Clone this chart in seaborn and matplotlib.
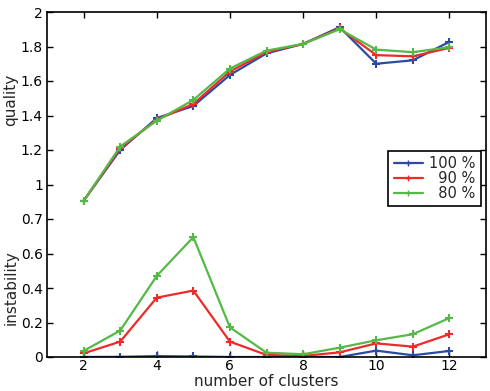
import numpy as np
import pandas as pd
import matplotlib
matplotlib.use("Agg")
import matplotlib.pyplot as plt
import seaborn as sns
from matplotlib.lines import Line2D

clusters = [2, 3, 4, 5, 6, 7, 8, 9, 10, 11, 12]
series = ["100 %", "90 %", "80 %"]
legend_labels = ["100 %", "  90 %", "  80 %"]

quality_100 = [0.905, 1.20, 1.385, 1.455, 1.635, 1.760, 1.815, 1.912, 1.700, 1.720, 1.827]
quality_90 = [0.905, 1.21, 1.375, 1.467, 1.655, 1.768, 1.815, 1.905, 1.750, 1.743, 1.792]
quality_80 = [0.905, 1.22, 1.370, 1.490, 1.672, 1.776, 1.815, 1.900, 1.782, 1.767, 1.796]

instab_100 = [0.000, 0.001, 0.005, 0.003, 0.000, 0.000, 0.000, 0.000, 0.037, 0.010, 0.035]
instab_90 = [0.021, 0.089, 0.344, 0.385, 0.089, 0.012, 0.006, 0.027, 0.079, 0.060, 0.132]
instab_80 = [0.035, 0.153, 0.470, 0.695, 0.172, 0.025, 0.016, 0.054, 0.097, 0.132, 0.226]

ytick_vals = [0, 0.2, 0.4, 0.6, 0.8, 1.0, 1.2, 1.4, 1.6, 1.8, 2.0]
ytick_labels = ["0", "0.2", "0.4", "0.6", "0.7", "1", "1.2", "1.4", "1.6", "1.8", "2"]
xtick_vals = [2, 4, 6, 8, 10, 12]

colors = {"100 %": "#2b4aa5", "90 %": "#ee2a2a", "80 %": "#55b947"}

rows = []
for s, q, ins in zip(series, [quality_100, quality_90, quality_80],
                     [instab_100, instab_90, instab_80]):
    for c, qv, iv in zip(clusters, q, ins):
        rows.append({"clusters": c, "series": s, "quality": qv, "instability": iv})
df = pd.DataFrame(rows)

sns.set_theme(style="white")
plt.rcParams["font.family"] = ["DejaVu Sans"]

fig = plt.figure(figsize=(4.9, 3.91), dpi=100)
ax = fig.add_axes([47 / 490, 1 - 357 / 391, (486 - 47) / 490, (357 - 12) / 391])

for metric in ["quality", "instability"]:
    sns.lineplot(data=df, x="clusters", y=metric, hue="series", hue_order=series,
                 palette=colors, marker="+", markersize=6, markeredgewidth=1.5,
                 linewidth=1.6, legend=False, ax=ax)
for ln in ax.lines:
    ln.set_markeredgecolor(ln.get_color())
    ln.set_markerfacecolor(ln.get_color())

ax.set_xlim(1, 13)
ax.set_ylim(0, 2)
ax.set_xticks(xtick_vals)
ax.set_xticklabels([str(v) for v in xtick_vals])
ax.set_yticks(ytick_vals)
ax.set_yticklabels(ytick_labels)
ax.set_xlabel("")
ax.set_ylabel("")
ax.tick_params(direction="in", length=4, width=1, colors="black", labelsize=10,
               top=True, right=True, bottom=True, left=True)
ax.tick_params(axis="x", pad=1.5)
ax.tick_params(axis="y", pad=3)
for sp in ax.spines.values():
    sp.set_visible(True)
    sp.set_color("black")
    sp.set_linewidth(1.2)

handles = [Line2D([0], [0], color=colors[s], marker="+", markersize=5, linewidth=1.6)
           for s in series]
leg = ax.legend(handles, legend_labels, loc="upper right",
                bbox_to_anchor=(0.988, 0.597), fontsize=10.5, frameon=True,
                fancybox=False, edgecolor="black", framealpha=1, numpoints=1,
                handlelength=2.0, labelspacing=0.0, borderpad=0.35,
                handletextpad=0.45, borderaxespad=0)
leg.get_frame().set_linewidth(1.2)

fig.text(11 / 490, 1 - 100 / 391, "quality", rotation=90, ha="center", va="center",
         fontsize=11)
fig.text(11 / 490, 1 - 288 / 391, "instability", rotation=90, ha="center", va="center",
         fontsize=11)
fig.text(266 / 490, 1 - 382 / 391, "number of clusters", ha="center", va="center",
         fontsize=11)

fig.savefig("out.png", dpi=100)
